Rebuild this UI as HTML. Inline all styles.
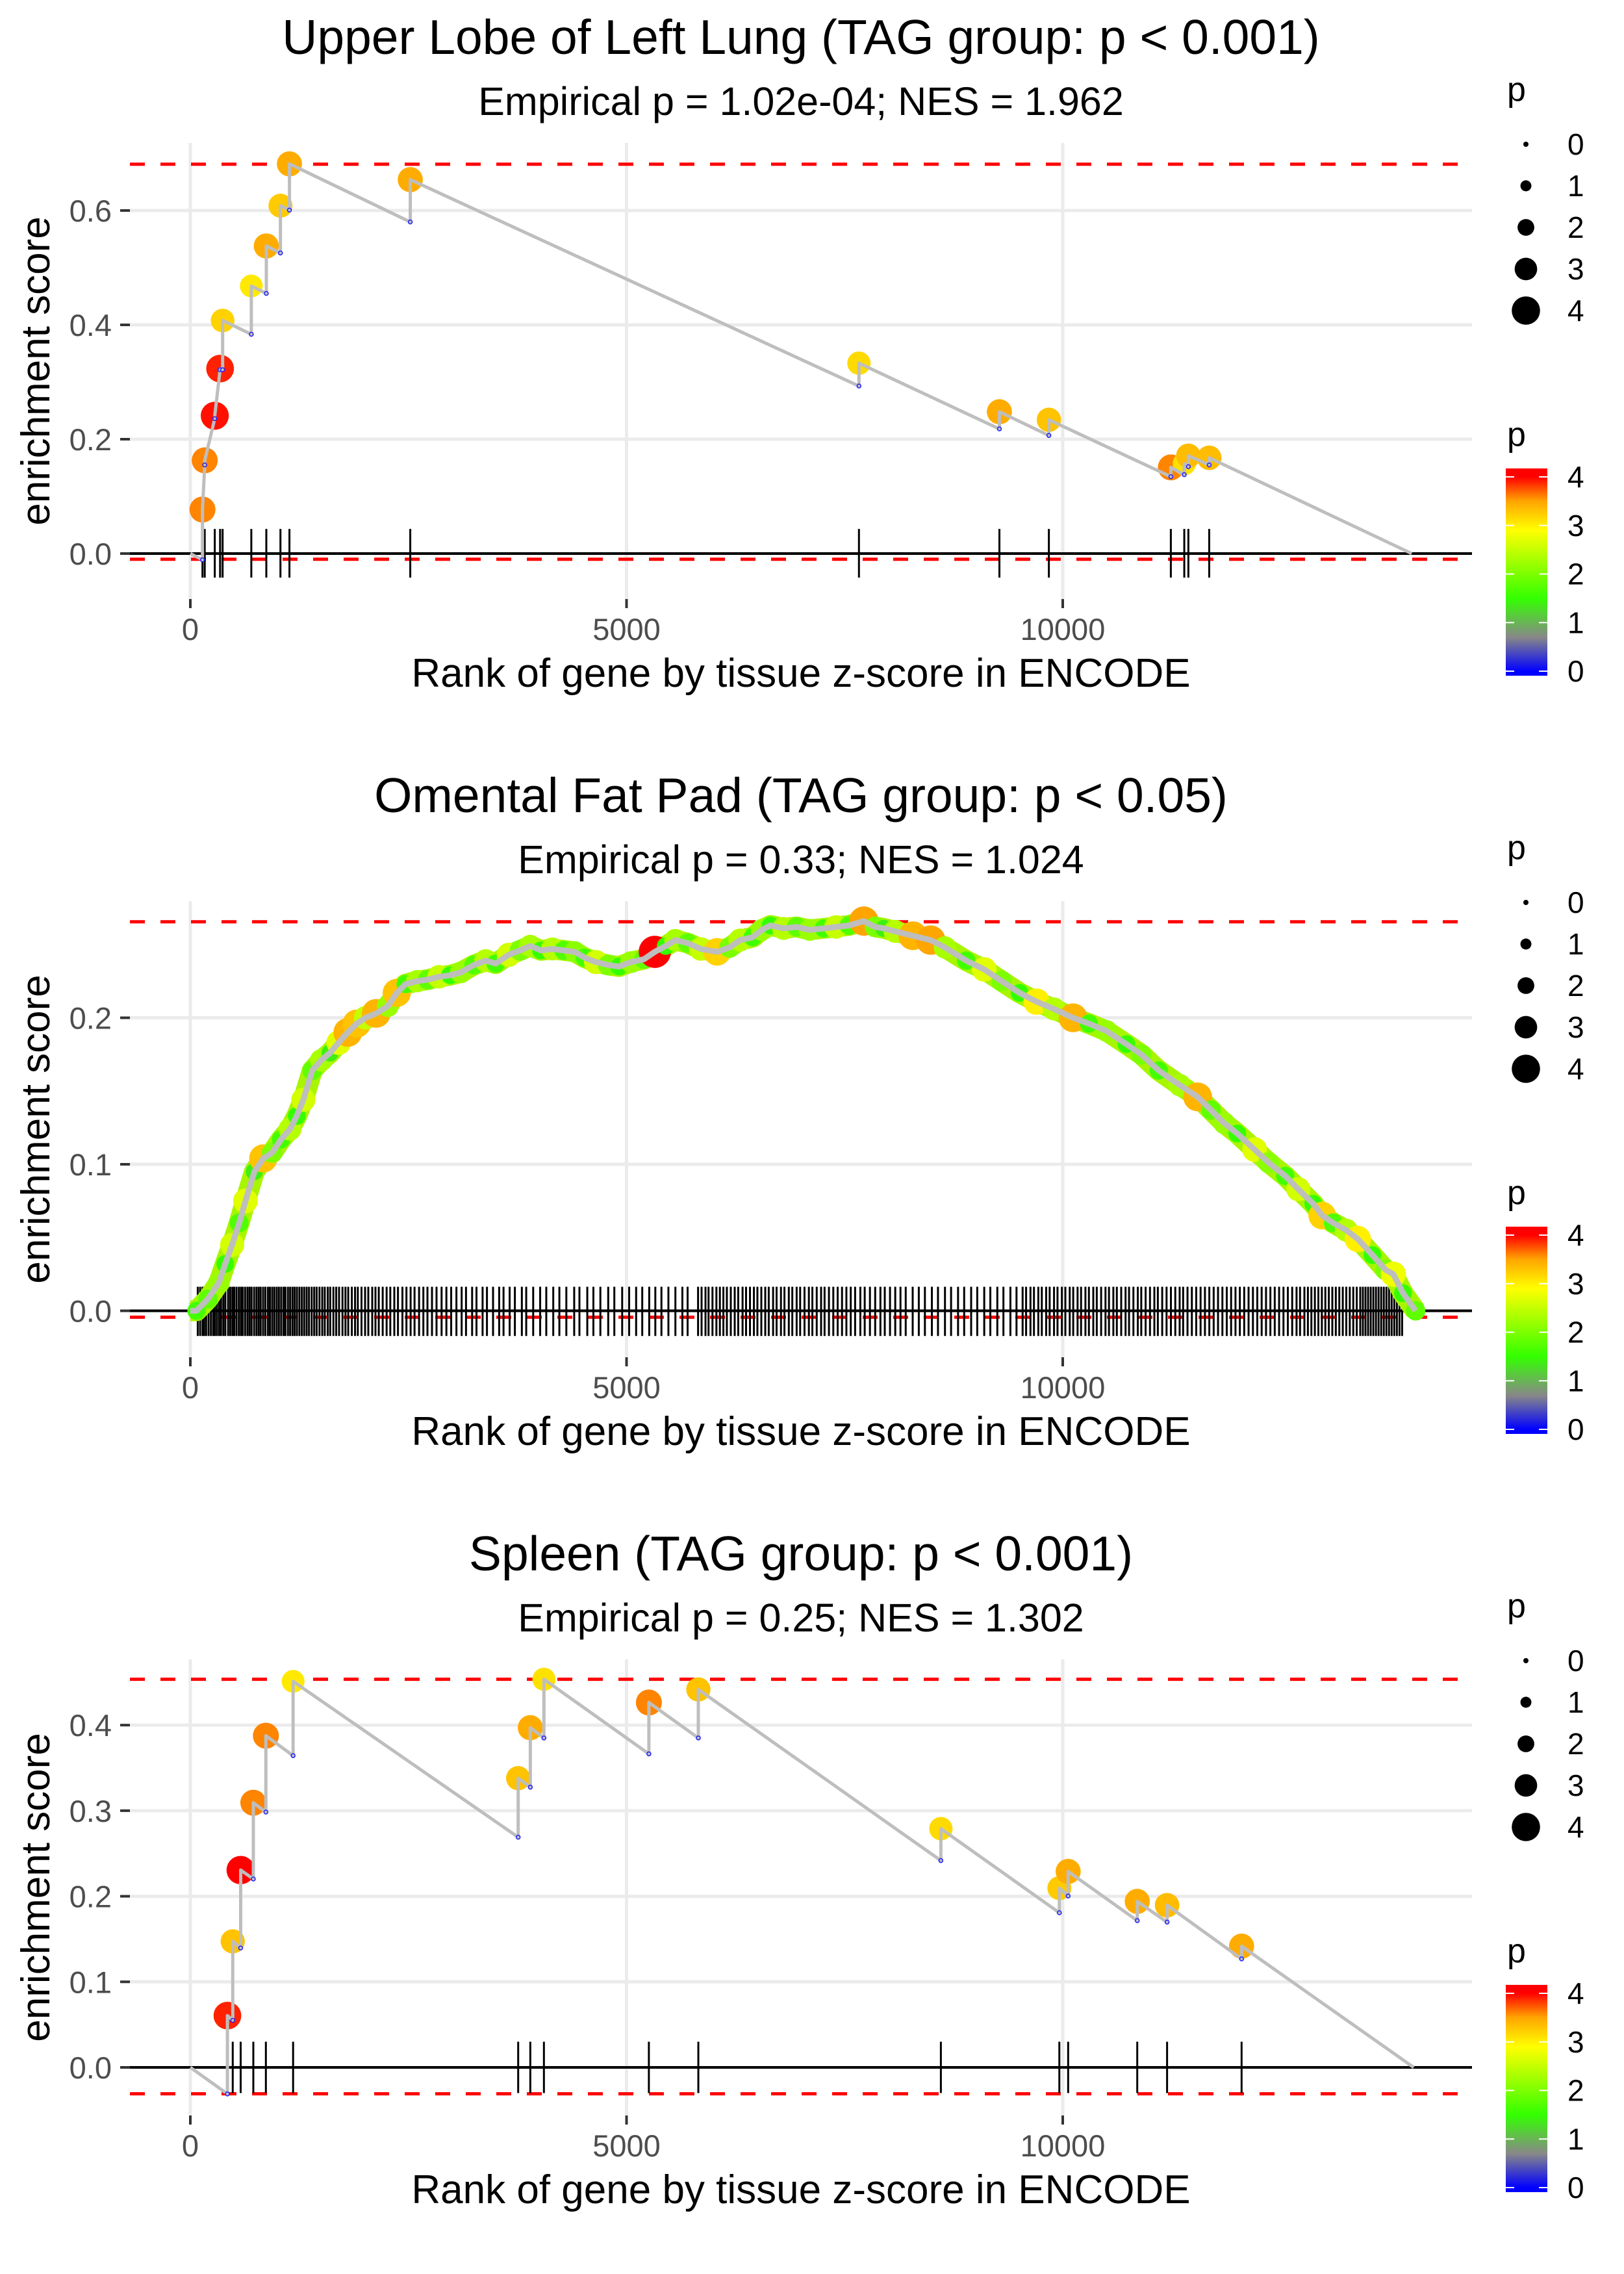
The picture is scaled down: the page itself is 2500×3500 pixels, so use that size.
<!DOCTYPE html>
<html><head><meta charset="utf-8">
<style>
html,body{margin:0;padding:0;background:#fff;}
svg{display:block;}
text{font-family:"Liberation Sans",Arial,sans-serif;}
</style></head>
<body>
<svg id="chart" xmlns="http://www.w3.org/2000/svg" width="2500" height="3500" viewBox="0 0 2500 3500">
<rect x="0" y="0" width="2500" height="3500" fill="#ffffff"/>
</svg>
<script>
// ---------- shared axis data ----------
const xTicks = [0, 5000, 10000];
const xTickLabels = ["0", "5000", "10000"];
const legendSizeValues = [0, 1, 2, 3, 4];
const legendColorValues = [4, 3, 2, 1, 0];

// ---------- panel 1: Upper Lobe of Left Lung ----------
const p1Rank = [139,165,280,341,370,699,871,1033,1136,2521,7664,9274,9841,11239,11393,11440,11679];
const p1ES   = [0.077,0.163,0.241,0.3235,0.4076,0.468,0.538,0.6085,0.6816,0.654,0.333,0.248,0.234,0.1507,0.157,0.171,0.1675];
const p1Pre  = [-0.011,0.155,0.236,0.3216,0.3215,0.3835,0.455,0.5257,0.6007,0.580,0.293,0.218,0.2065,0.1345,0.138,0.152,0.155];
const p1P    = [3.6,3.6,3.95,3.9,3.2,3.05,3.45,3.25,3.45,3.45,3.15,3.45,3.3,3.6,3.1,3.35,3.35];
const p1End = 14000;
const p1YTicks = [0, 0.2, 0.4, 0.6];
const p1YTickLabels = ["0.0","0.2","0.4","0.6"];
const p1Limits = [0.681, -0.010];
const p1Rug = [0.043, -0.042];

// ---------- panel 2: Omental Fat Pad ----------
const p2Rank = [71,200,326,400,479,560,632,734,836,938,1040,1142,1220,1295,1397,1500,1601,1700,1805,1907,2009,2130,2264,2366,2468,2600,2720,2850,2978,3100,3250,3386,3500,3650,3780,3896,4020,4150,4280,4406,4520,4650,4790,4916,5050,5200,5324,5450,5560,5700,5850,6038,6180,6300,6446,6550,6650,6800,6950,7100,7262,7400,7550,7720,7850,7950,8078,8282,8486,8650,8894,9100,9300,9506,9700,9900,10118,10300,10500,10730,10900,11100,11342,11546,11700,11852,12000,12200,12362,12550,12700,12872,12974,13100,13250,13382,13550,13700,13790,13900,14045];
const p2ES = [0.000,0.008,0.019,0.032,0.045,0.060,0.075,0.095,0.104,0.108,0.117,0.124,0.133,0.144,0.164,0.171,0.176,0.183,0.190,0.196,0.200,0.203,0.208,0.217,0.223,0.225,0.226,0.228,0.229,0.231,0.236,0.239,0.237,0.243,0.246,0.249,0.246,0.247,0.246,0.245,0.241,0.238,0.236,0.235,0.238,0.240,0.245,0.249,0.253,0.251,0.247,0.245,0.248,0.253,0.255,0.260,0.263,0.261,0.262,0.260,0.261,0.262,0.263,0.266,0.262,0.261,0.259,0.256,0.253,0.248,0.239,0.233,0.225,0.217,0.211,0.206,0.200,0.196,0.191,0.182,0.175,0.164,0.154,0.146,0.137,0.128,0.121,0.110,0.101,0.092,0.083,0.073,0.065,0.060,0.055,0.049,0.038,0.028,0.025,0.012,0.000];
const p2P = [1.6,1.8,2.2,1.5,2.6,1.7,2.7,1.4,3.3,2.0,1.6,2.4,1.5,2.6,1.8,2.3,1.4,2.7,3.4,3.3,2.5,3.4,2.2,3.3,1.6,2.3,1.8,2.5,1.5,2.2,1.7,2.4,1.6,2.6,2.0,2.3,1.5,2.4,1.7,2.1,1.6,2.6,2.0,1.5,2.2,1.8,4.0,1.5,2.3,1.8,2.5,3.2,2.0,2.4,1.6,2.2,1.5,2.4,1.8,2.2,1.6,2.5,1.7,3.5,2.0,1.4,2.4,3.4,3.5,2.3,1.6,2.7,2.0,1.5,3.0,2.4,3.4,1.6,2.2,1.5,2.0,1.6,2.3,3.4,1.8,2.2,1.5,2.7,2.1,1.6,2.6,1.5,3.2,1.7,2.4,3.0,1.5,2.0,2.8,1.5,1.8];
const p2RugRanks = [85,112,140,158,181,209,236,262,281,305,330,352,378,401,433,457,482,503,529,556,580,601,628,655,679,702,731,758,783,806,834,860,889,912,938,963,990,1015,1041,1068,1090,1119,1144,1171,1196,1222,1250,1278,1305,1333,1360,1391,1420,1448,1480,1512,1541,1575,1603,1640,1672,1705,1744,1778,1810,1851,1888,1920,1962,2003,2040,2085,2122,2160,2205,2250,2292,2338,2380,2431,2477,2525,2570,2622,2671,2718,2770,2822,2880,2935,2990,3050,3110,3160,3230,3280,3350,3400,3470,3540,3590,3660,3720,3800,3850,3930,4010,4080,4160,4230,4310,4400,4460,4550,4620,4700,4790,4860,4950,5030,5110,5180,5260,5330,5400,5480,5560,5640,5700,5820,5860,5905,5940,5985,6030,6070,6110,6150,6195,6240,6280,6330,6370,6415,6460,6500,6545,6590,6630,6680,6720,6770,6810,6860,6900,6950,6990,7040,7090,7130,7180,7230,7270,7320,7370,7420,7470,7520,7570,7620,7680,7730,7790,7850,7910,7960,8020,8080,8140,8200,8280,8350,8420,8500,8570,8650,8720,8800,8870,8950,9020,9100,9170,9250,9320,9400,9470,9540,9580,9630,9670,9720,9760,9810,9850,9900,9940,9990,10030,10080,10120,10170,10210,10260,10300,10350,10390,10440,10490,10530,10580,10620,10670,10720,10760,10810,10860,10900,10950,11000,11050,11090,11140,11190,11240,11290,11340,11380,11430,11480,11530,11580,11630,11680,11730,11780,11830,11880,11930,11980,12030,12080,12130,12180,12230,12280,12330,12380,12430,12480,12530,12580,12630,12680,12720,12770,12810,12850,12890,12930,12970,13010,13050,13090,13130,13170,13210,13250,13290,13330,13370,13410,13440,13470,13500,13530,13560,13590,13620,13650,13680,13710,13740,13770,13800,13830,13860,13890];
const p2YTicks = [0, 0.1, 0.2];
const p2YTickLabels = ["0.0","0.1","0.2"];
const p2Limits = [0.2655, -0.0044];
const p2Rug = [0.0164, -0.0172];

// ---------- panel 3: Spleen ----------
const p3Rank = [425,486,577,722,866,1178,3758,3897,4053,5256,5823,8603,9961,10062,10854,11196,12050];
const p3ES   = [0.0605,0.1473,0.2306,0.3093,0.3876,0.4512,0.338,0.397,0.4536,0.4264,0.4417,0.279,0.2095,0.229,0.194,0.1895,0.1417];
const p3Pre  = [-0.031,0.055,0.1395,0.2202,0.2984,0.3643,0.269,0.3275,0.385,0.3664,0.385,0.2417,0.1807,0.2003,0.1715,0.1698,0.1268];
const p3P    = [3.9,3.3,4.0,3.6,3.6,3.05,3.3,3.45,3.1,3.6,3.3,3.15,3.25,3.45,3.45,3.35,3.45];
const p3End = 14022;
const p3YTicks = [0, 0.1, 0.2, 0.3, 0.4];
const p3YTickLabels = ["0.0","0.1","0.2","0.3","0.4"];
const p3Limits = [0.4536, -0.0308];
const p3Rug = [0.030, -0.030];

// ---------- helpers ----------
const NS = "http://www.w3.org/2000/svg";
const svg = document.getElementById("chart");
function mk(tag, attrs, parent) {
  const e = document.createElementNS(NS, tag);
  for (const k in attrs) e.setAttribute(k, attrs[k]);
  (parent || svg).appendChild(e);
  return e;
}
const colorStops = [[0,[0,0,255]],[0.7,[136,136,136]],[1.5,[51,255,0]],[2.9,[255,255,0]],[3.5,[255,165,0]],[4,[255,0,0]]];
function pColor(p) {
  p = Math.max(0, Math.min(4, p));
  for (let i = 1; i < colorStops.length; i++) {
    if (p <= colorStops[i][0]) {
      const a = colorStops[i-1], b = colorStops[i];
      const t = (p - a[0]) / (b[0] - a[0]);
      const c = a[1].map((v, j) => Math.round(v + (b[1][j] - v) * t));
      return "rgb(" + c.join(",") + ")";
    }
  }
  return "rgb(255,0,0)";
}
function pDiam(p) { return 8 + 8.9 * p; }

const PL = 200, PR = 2266;
const xRank = r => 293 + 0.1343 * r;

function drawPanel(cfg) {
  const off = cfg.off;
  const g = mk("g", {});
  
  
  const yv = v => off + cfg.zero - v * cfg.scale;
  const top = off + 220, bot = off + 922;

  const t = mk("text", {x:1233, y:off+83, "text-anchor":"middle", "font-size":75, fill:"#000"}, g);
  t.textContent = cfg.title;
  
  
  const st = mk("text", {x:1233, y:off+177, "text-anchor":"middle", "font-size":61, fill:"#000"}, g);
  st.textContent = cfg.subtitle;
  
  

  const grid = mk("g", {stroke:"#ebebeb", "stroke-width":5}, g);
  
  
  cfg.yTicks.forEach(v => {
    const l = mk("line", {x1:PL, x2:PR, y1:yv(v), y2:yv(v)}, grid);
    
    
  });
  xTicks.forEach(v => {
    const l = mk("line", {x1:xRank(v), x2:xRank(v), y1:top, y2:bot}, grid);
    
    
  });

  cfg.yTicks.forEach((v, i) => {
    const tk = mk("line", {x1:185, x2:200, y1:yv(v), y2:yv(v), stroke:"#333", "stroke-width":4}, g);
    
    
    const lb = mk("text", {x:172, y:yv(v)+17, "text-anchor":"end", "font-size":47, fill:"#4d4d4d"}, g);
    lb.textContent = cfg.yLabels[i];
    
    
  });
  xTicks.forEach((v, i) => {
    const tk = mk("line", {x1:xRank(v), x2:xRank(v), y1:bot, y2:bot+14, stroke:"#333", "stroke-width":4}, g);
    
    
    const lb = mk("text", {x:xRank(v), y:off+985, "text-anchor":"middle", "font-size":47, fill:"#4d4d4d"}, g);
    lb.textContent = xTickLabels[i];
    
    
  });
  const xt = mk("text", {x:1233, y:off+1057, "text-anchor":"middle", "font-size":62, fill:"#000"}, g);
  xt.textContent = "Rank of gene by tissue z-score in ENCODE";
  
  
  const ycy = off + 571;
  const yt = mk("text", {x:76, y:ycy, "text-anchor":"middle", "font-size":62, fill:"#000", transform:"rotate(-90 76 " + ycy + ")"}, g);
  yt.textContent = "enrichment score";
  
  

  cfg.limits.forEach(v => {
    const d = mk("line", {x1:PL, x2:PR, y1:yv(v), y2:yv(v), stroke:"#ff0000", "stroke-width":5, "stroke-dasharray":"23 24"}, g);
    
    
  });
  const z = mk("line", {x1:PL, x2:PR, y1:yv(0), y2:yv(0), stroke:"#000", "stroke-width":4}, g);
  
  

  const rug = mk("g", {stroke:"#000", "stroke-width":cfg.rugWidth}, g);
  
  
  cfg.rugRanks.forEach(r => {
    const l = mk("line", {x1:xRank(r), x2:xRank(r), y1:yv(cfg.rug[0]), y2:yv(cfg.rug[1])}, rug);
    
    
  });

  let pts = [[xRank(0), yv(0)]];
  if (cfg.pre) {
    cfg.rank.forEach((r, i) => { pts.push([xRank(r), yv(cfg.pre[i])]); pts.push([xRank(r), yv(cfg.es[i])]); });
    pts.push([xRank(cfg.end), yv(0)]);
  } else {
    cfg.rank.forEach((r, i) => pts.push([xRank(r), yv(cfg.es[i])]));
  }
  const ptsStr = pts.map(p => p[0].toFixed(1) + "," + p[1].toFixed(1)).join(" ");

  if (cfg.band) {
    const band = mk("polyline", {points:ptsStr, fill:"none", stroke:"#a8f500", "stroke-width":32, "stroke-linejoin":"round"}, g);
    
    
  }
  const pg = mk("g", {}, g);
  
  
  cfg.rank.forEach((r, i) => {
    const c = mk("circle", {cx:xRank(r), cy:yv(cfg.es[i]), r:pDiam(cfg.p[i])/2 + (cfg.band ? 3 : 0), fill:pColor(cfg.p[i])}, pg);
    
    
  });
  const line = mk("polyline", {points:ptsStr, fill:"none", stroke:"#bebebe", "stroke-width":cfg.band ? 9 : 5, "stroke-linejoin":"round"}, g);
  
  
  if (cfg.pre) {
    cfg.rank.forEach((r, i) => {
      const c = mk("circle", {cx:xRank(r), cy:yv(cfg.pre[i]), r:3, fill:"#bebebe", stroke:"#2020ff", "stroke-width":1.5}, g);
      
      
    });
  }

  const lg = mk("g", {}, g);
  
  
  const lt = mk("text", {x:2320, y:off+155, "font-size":52, fill:"#000"}, lg);
  lt.textContent = "p";
  
  
  legendSizeValues.forEach((v, i) => {
    const cy = off + 222 + i * 64;
    const c = mk("circle", {cx:2349, cy:cy, r:pDiam(v)/2, fill:"#000"}, lg);
    
    
    const tx = mk("text", {x:2413, y:cy+16, "font-size":46, fill:"#000"}, lg);
    tx.textContent = String(v);
    
    
  });
  const cg = mk("g", {}, g);
  
  
  const ct = mk("text", {x:2320, y:off+686, "font-size":52, fill:"#000"}, cg);
  ct.textContent = "p";
  
  
  const barTop = off + 721, barBot = off + 1040, y4 = off + 734, y0 = off + 1033;
  const bar = mk("rect", {x:2318, y:barTop, width:64, height:barBot-barTop, fill:"url(#cbar)"}, cg);
  
  
  legendColorValues.forEach(v => {
    const y = y0 - (y0 - y4) * v / 4;
    const t1 = mk("line", {x1:2318, x2:2331, y1:y, y2:y, stroke:"#fff", "stroke-width":2}, cg);
    
    
    const t2 = mk("line", {x1:2369, x2:2382, y1:y, y2:y, stroke:"#fff", "stroke-width":2}, cg);
    
    
    const tx = mk("text", {x:2413, y:y+16, "font-size":46, fill:"#000"}, cg);
    tx.textContent = String(v);
    
    
  });
}

const defs = mk("defs", {});
const grad = mk("linearGradient", {id:"cbar", x1:0, y1:1, x2:0, y2:0}, defs);
colorStops.forEach(s => {
  const yy = 1033 - 74.75 * s[0];
  const off = (1040 - yy) / (1040 - 721);
  mk("stop", {offset:off.toFixed(4), "stop-color":"rgb(" + s[1].join(",") + ")"}, grad);
});

drawPanel({name:"upper-lobe-left-lung", off:0, zero:852, scale:880, title:"Upper Lobe of Left Lung (TAG group: p < 0.001)", subtitle:"Empirical p = 1.02e-04; NES = 1.962", yTicks:p1YTicks, yLabels:p1YTickLabels, limits:p1Limits, rug:p1Rug, rugRanks:p1Rank, rugWidth:3, rank:p1Rank, es:p1ES, pre:p1Pre, p:p1P, end:p1End});
drawPanel({name:"omental-fat-pad", off:1167, zero:850.5, scale:2255, title:"Omental Fat Pad (TAG group: p < 0.05)", subtitle:"Empirical p = 0.33; NES = 1.024", yTicks:p2YTicks, yLabels:p2YTickLabels, limits:p2Limits, rug:p2Rug, rugRanks:p2RugRanks, rugWidth:3, rank:p2Rank, es:p2ES, pre:null, p:p2P, band:true});
drawPanel({name:"spleen", off:2334, zero:848, scale:1317, title:"Spleen (TAG group: p < 0.001)", subtitle:"Empirical p = 0.25; NES = 1.302", yTicks:p3YTicks, yLabels:p3YTickLabels, limits:p3Limits, rug:p3Rug, rugRanks:p3Rank, rugWidth:3, rank:p3Rank, es:p3ES, pre:p3Pre, p:p3P, end:p3End});
</script>
</body></html>
